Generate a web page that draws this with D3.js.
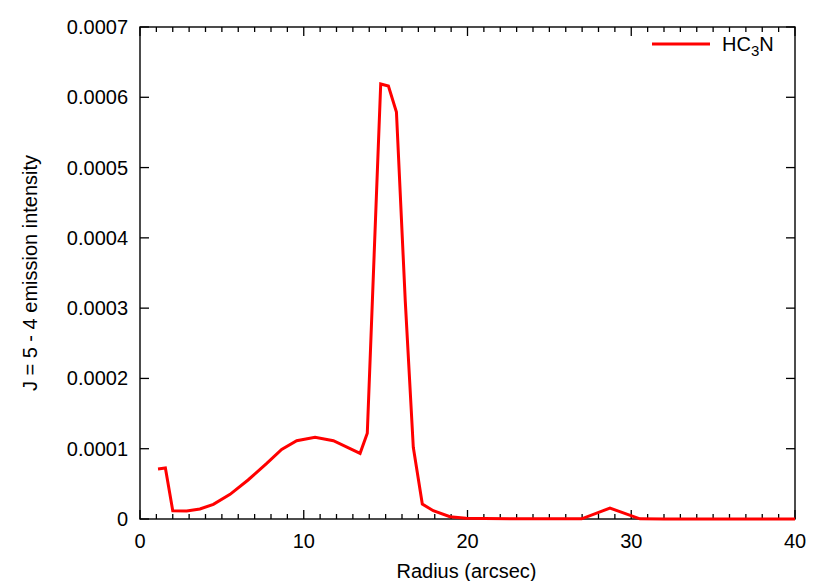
<!DOCTYPE html>
<html>
<head>
<meta charset="utf-8">
<script src="https://cdn.jsdelivr.net/npm/d3@7"></script>
<style>
body{margin:0;background:#fff;}
svg text{font-family:"Liberation Sans",Arial,Helvetica,sans-serif;fill:#000;}
</style>
</head>
<body>
<svg id="chart" width="829" height="581"></svg>
<script>
const radius = [1.1, 1.55, 2.0, 2.85, 3.66, 4.48, 5.5, 6.6, 7.74, 8.65, 9.57, 10.69, 11.81, 13.44, 13.88, 14.7, 15.17, 15.66, 16.2, 16.69, 17.24, 17.91, 18.93, 19.9, 21.0, 23.0, 25.0, 26.97, 28.7, 30.53, 32.0, 35.0, 38.0, 40.0];
const intensity = [0.0000711, 0.0000725, 0.0000118, 0.0000114, 0.0000142, 0.0000209, 0.0000351, 0.0000555, 0.0000792, 0.0000991, 0.0001114, 0.0001162, 0.0001114, 0.0000934, 0.000122, 0.000619, 0.000616, 0.000579, 0.00031, 0.000102, 0.0000213, 0.0000118, 0.0000033, 0.000001, 0.0000006, 0.0000004, 0.0000003, 0.0000003, 0.0000155, 0.0000002, 0.0000001, 0.0000001, 0.0000001, 0.0000001];
const xTicks = [0, 10, 20, 30, 40];
const yTicks = [0, 0.0001, 0.0002, 0.0003, 0.0004, 0.0005, 0.0006, 0.0007];
const seriesName = "HC3N";

const svg = d3.select("#chart");
const L = 140, R = 795, T = 27, B = 519;
const x = d3.scaleLinear().domain([0, 40]).range([L, R]);
const y = d3.scaleLinear().domain([0, 0.0007]).range([B, T]);
const fs = 20;

// frame
svg.append("rect").attr("x", L).attr("y", T).attr("width", R - L).attr("height", B - T)
  .attr("fill", "none").attr("stroke", "#000").attr("stroke-width", 1.4);

// x ticks (minor every 1, major every 10) - inward, bottom and top
const xMinor = d3.range(0, 41, 1);
xMinor.forEach(v => {
  const major = v % 10 === 0;
  const len = major ? 9 : 5;
  svg.append("line").attr("x1", x(v)).attr("x2", x(v)).attr("y1", B).attr("y2", B - len)
    .attr("stroke", "#000").attr("stroke-width", 1.3);
  svg.append("line").attr("x1", x(v)).attr("x2", x(v)).attr("y1", T).attr("y2", T + len)
    .attr("stroke", "#000").attr("stroke-width", 1.3);
});
xTicks.forEach(v => {
  svg.append("text").attr("x", x(v)).attr("y", B + 29).attr("text-anchor", "middle")
    .attr("font-size", fs).text(d3.format("d")(v));
});

// y ticks
yTicks.forEach(v => {
  svg.append("line").attr("x1", L).attr("x2", L + 9).attr("y1", y(v)).attr("y2", y(v))
    .attr("stroke", "#000").attr("stroke-width", 1.3);
  svg.append("line").attr("x1", R).attr("x2", R - 9).attr("y1", y(v)).attr("y2", y(v))
    .attr("stroke", "#000").attr("stroke-width", 1.3);
  svg.append("text").attr("x", L - 12).attr("y", y(v)).attr("dy", "0.35em")
    .attr("text-anchor", "end").attr("font-size", fs)
    .text(v === 0 ? "0" : d3.format(".4f")(v));
});

// axis labels
svg.append("text").attr("x", (L + R) / 2 - 1).attr("y", 578).attr("text-anchor", "middle")
  .attr("font-size", fs).text("Radius (arcsec)");
svg.append("text").attr("transform", `translate(37,${(T + B) / 2}) rotate(-90)`)
  .attr("text-anchor", "middle").attr("font-size", fs).text("J = 5 - 4 emission intensity");

// line
const data = radius.map((r, i) => ({r, v: intensity[i]}));
svg.append("path").datum(data)
  .attr("fill", "none").attr("stroke", "#ff0000").attr("stroke-width", 3)
  .attr("stroke-linejoin", "miter")
  .attr("d", d3.line().x(d => x(d.r)).y(d => y(d.v)));

// legend
svg.append("line").attr("x1", 652).attr("x2", 710).attr("y1", 44).attr("y2", 44)
  .attr("stroke", "#ff0000").attr("stroke-width", 3);
const lt = svg.append("text").attr("x", 722).attr("y", 51).attr("font-size", fs);
lt.append("tspan").text("HC");
lt.append("tspan").attr("font-size", fs * 0.75).attr("dy", 5).text("3");
lt.append("tspan").attr("dy", -5).text("N");
</script>
</body>
</html>
